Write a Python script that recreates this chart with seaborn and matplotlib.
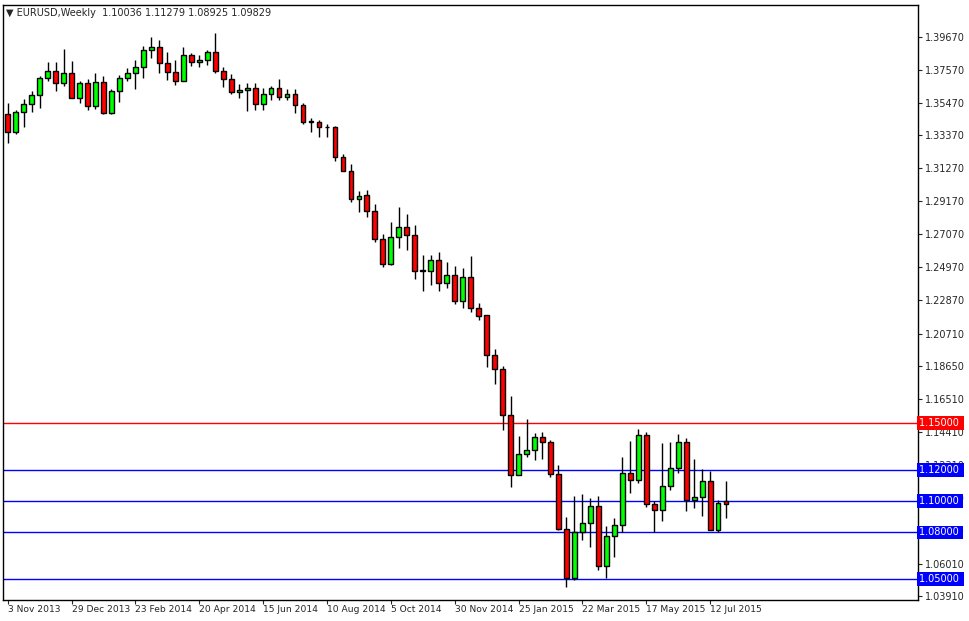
import numpy as np
import pandas as pd
import seaborn as sns
import matplotlib.pyplot as plt

# weekly EURUSD candles
opens = [1.3473, 1.3358, 1.3486, 1.3539, 1.3594, 1.3703, 1.3748, 1.3671, 1.3735, 1.3575,
         1.3671, 1.3524, 1.3677, 1.3479, 1.3620, 1.3703, 1.3735, 1.3773, 1.3882, 1.3901,
         1.3799, 1.3741, 1.3688, 1.3850, 1.3805, 1.3818, 1.3869, 1.3752, 1.3697, 1.3613,
         1.3626, 1.3639, 1.3539, 1.3601, 1.3639, 1.3582, 1.3601, 1.3531, 1.3426, 1.3422,
         1.3394, 1.3390, 1.3198, 1.3113, 1.2934, 1.2955, 1.2853, 1.2674, 1.2514, 1.2687,
         1.2751, 1.2698, 1.2474, 1.2472, 1.2538, 1.2393, 1.2448, 1.2276, 1.2431, 1.2233,
         1.2191, 1.1931, 1.1843, 1.1549, 1.1166, 1.1300, 1.1326, 1.1409, 1.1377, 1.1172,
         1.0823, 1.0508, 1.0802, 1.0859, 1.0972, 1.0587, 1.0778, 1.0847, 1.1179, 1.1134,
         1.1424, 1.0981, 1.0942, 1.1098, 1.1211, 1.1377, 1.1006, 1.1025, 1.1128, 1.0815,
         1.10036]
highs = [1.3543, 1.3500, 1.3571, 1.3622, 1.3714, 1.3807, 1.3807, 1.3890, 1.3814, 1.3686,
         1.3699, 1.3737, 1.3714, 1.3633, 1.3724, 1.3769, 1.3820, 1.3909, 1.3969, 1.3948,
         1.3869, 1.3820, 1.3901, 1.3863, 1.3852, 1.3884, 1.3995, 1.3773, 1.3731, 1.3667,
         1.3675, 1.3671, 1.3639, 1.3650, 1.3697, 1.3633, 1.3633, 1.3543, 1.3447, 1.3437,
         1.3409, 1.3398, 1.3219, 1.3155, 1.2979, 1.2989, 1.2900, 1.2708, 1.2787, 1.2879,
         1.2836, 1.2766, 1.2574, 1.2574, 1.2591, 1.2527, 1.2504, 1.2489, 1.2568, 1.2265,
         1.2191, 1.1971, 1.1865, 1.1673, 1.1417, 1.1526, 1.1434, 1.1441, 1.1388, 1.1232,
         1.0898, 1.1034, 1.1047, 1.1019, 1.1030, 1.0842, 1.0893, 1.1285, 1.1385, 1.1462,
         1.1441, 1.1002, 1.1371, 1.1379, 1.1430, 1.1403, 1.1268, 1.1205, 1.1190, 1.1008,
         1.11279]
lows = [1.3288, 1.3349, 1.3394, 1.3486, 1.3515, 1.3688, 1.3618, 1.3650, 1.3575, 1.3543,
        1.3500, 1.3507, 1.3473, 1.3473, 1.3554, 1.3688, 1.3637, 1.3703, 1.3831, 1.3739,
        1.3692, 1.3660, 1.3688, 1.3784, 1.3777, 1.3788, 1.3739, 1.3645, 1.3601, 1.3577,
        1.3496, 1.3500, 1.3500, 1.3565, 1.3565, 1.3565, 1.3483, 1.3411, 1.3362, 1.3326,
        1.3330, 1.3177, 1.3113, 1.2915, 1.2851, 1.2819, 1.2659, 1.2495, 1.2506, 1.2617,
        1.2606, 1.2419, 1.2346, 1.2383, 1.2346, 1.2365, 1.2261, 1.2237, 1.2212, 1.2159,
        1.1856, 1.1748, 1.1456, 1.1090, 1.1166, 1.1281, 1.1260, 1.1268, 1.1153, 1.0813,
        1.0451, 1.0493, 1.0753, 1.0704, 1.0557, 1.0506, 1.0646, 1.0806, 1.1055, 1.1119,
        1.0962, 1.0806, 1.0876, 1.1072, 1.1179, 1.0940, 1.0955, 1.0906, 1.0815, 1.0800,
        1.08925]
closes = [1.3358, 1.3486, 1.3539, 1.3594, 1.3703, 1.3748, 1.3671, 1.3735, 1.3575, 1.3671,
          1.3524, 1.3677, 1.3479, 1.3620, 1.3703, 1.3737, 1.3773, 1.3882, 1.3901, 1.3799,
          1.3741, 1.3688, 1.3850, 1.3805, 1.3818, 1.3869, 1.3752, 1.3697, 1.3613, 1.3626,
          1.3639, 1.3539, 1.3601, 1.3639, 1.3582, 1.3601, 1.3531, 1.3422, 1.3424, 1.3394,
          1.3390, 1.3198, 1.3113, 1.2934, 1.2953, 1.2853, 1.2674, 1.2514, 1.2687, 1.2751,
          1.2698, 1.2474, 1.2472, 1.2538, 1.2393, 1.2448, 1.2276, 1.2431, 1.2233, 1.2186,
          1.1931, 1.1843, 1.1549, 1.1166, 1.1300, 1.1326, 1.1409, 1.1377, 1.1172, 1.0823,
          1.0508, 1.0802, 1.0859, 1.0972, 1.0587, 1.0778, 1.0847, 1.1179, 1.1134, 1.1424,
          1.0981, 1.0942, 1.1098, 1.1211, 1.1377, 1.1006, 1.1025, 1.1128, 1.0815, 1.0991,
          1.09829]

date_labels = ["3 Nov 2013", "29 Dec 2013", "23 Feb 2014", "20 Apr 2014", "15 Jun 2014",
               "10 Aug 2014", "5 Oct 2014", "30 Nov 2014", "25 Jan 2015", "22 Mar 2015",
               "17 May 2015", "12 Jul 2015"]
price_ticks = [1.39670, 1.37570, 1.35470, 1.33370, 1.31270, 1.29170, 1.27070, 1.24970,
               1.22870, 1.20710, 1.18650, 1.16510, 1.14410, 1.12310, 1.10210, 1.08110,
               1.06010, 1.03910]
hlines = [1.15, 1.12, 1.10, 1.08, 1.05]
hline_colors = ["#ff0000", "#0000ff", "#0000ff", "#0000ff", "#0000ff"]

df = pd.DataFrame({"open": opens, "high": highs, "low": lows, "close": closes})
df["idx"] = np.arange(len(df))
df["up"] = df["close"] >= df["open"]

sns.set_style("white")
plt.rcParams["font.family"] = ["DejaVu Sans"]

fig = plt.figure(figsize=(9.69, 6.21), dpi=100)
ax = fig.add_axes([0.003, 0.034, 0.944, 0.958])

for y, c in zip(hlines, hline_colors):
    ax.axhline(y, color=c, lw=1, zorder=1)

ax.vlines(df["idx"], df["low"], df["high"], color="black", lw=1, zorder=2)
body_bottom = df[["open", "close"]].min(axis=1)
body_h = (df["close"] - df["open"]).abs().clip(lower=0.0003)
colors = np.where(df["up"], "#00ff00", "#ff0000")
ax.bar(df["idx"], body_h, bottom=body_bottom, width=0.6, color=colors,
       edgecolor="black", linewidth=1, zorder=3)

ax.set_xlim(-0.6, 114)
ax.set_ylim(1.0369, 1.4171)

ax.yaxis.tick_right()
ax.set_yticks(price_ticks)
ax.set_yticklabels([f"{v:.5f}" for v in price_ticks], fontsize=7)
ax.tick_params(axis="y", length=3, direction="out", right=True, pad=2)
ax.set_xticks(np.arange(0, len(df), 8))
ax.set_xticklabels(date_labels, fontsize=6.6, ha="left")
ax.tick_params(axis="x", length=3, direction="out", bottom=True, pad=1)

for y, bc in zip(hlines, hline_colors):
    ax.text(1.001, y, f"{y:.5f} ", transform=ax.get_yaxis_transform(), fontsize=7,
            color="white", va="center", ha="left", zorder=5,
            bbox=dict(boxstyle="square,pad=0.2", fc=bc, ec="none"))

for s in ax.spines.values():
    s.set_color("black")
    s.set_linewidth(1)

ax.text(0.003, 0.995, "\u25bc EURUSD,Weekly  1.10036 1.11279 1.08925 1.09829",
        transform=ax.transAxes, fontsize=7, va="top", ha="left")

fig.savefig("out.png", dpi=100)
